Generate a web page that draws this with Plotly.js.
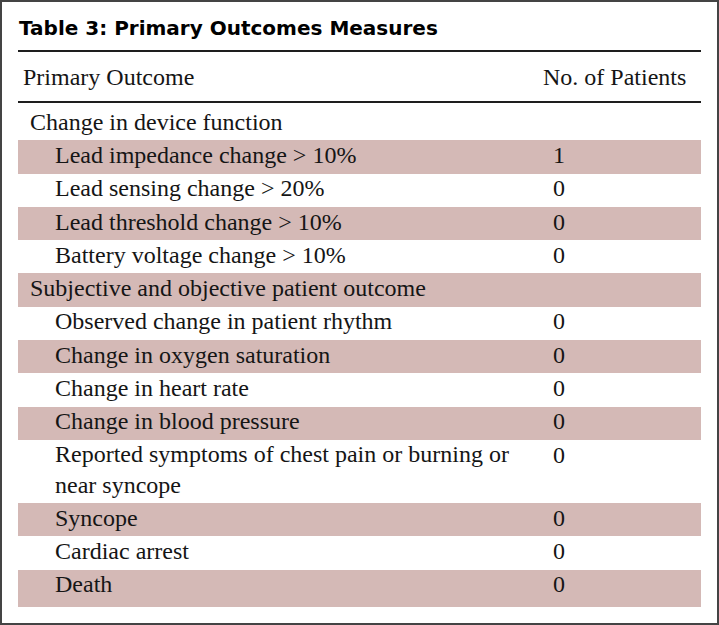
<!DOCTYPE html>
<html>
<head>
<meta charset="utf-8">
<script src="https://cdn.plot.ly/plotly-3.0.1.min.js"></script>
<style>html,body{margin:0;padding:0;background:#fff;}#chart{width:719px;height:625px;}</style>
</head>
<body>
<div id="chart"></div>
<script>
// ---- data ----
const tableTitle = "Table 3: Primary Outcomes Measures";
const columnHeaders = ["Primary Outcome", "No. of Patients"];
const outcomes = [
  "Change in device function",
  "Lead impedance change > 10%",
  "Lead sensing change > 20%",
  "Lead threshold change > 10%",
  "Battery voltage change > 10%",
  "Subjective and objective patient outcome",
  "Observed change in patient rhythm",
  "Change in oxygen saturation",
  "Change in heart rate",
  "Change in blood pressure",
  "Reported symptoms of chest pain or burning or<br>near syncope",
  "Syncope",
  "Cardiac arrest",
  "Death"
];
const patients = ["", "1", "0", "0", "0", "", "0", "0", "0", "0", "0", "0", "0", "0"];
const levels = [0, 1, 1, 1, 1, 0, 1, 1, 1, 1, 1, 1, 1, 1];

// ---- layout helpers (styling) ----
const W = 719, H = 625;
const SHADE = "#d4b9b6";
const TEXT = "#151515";
const SERIF = "'Liberation Serif', 'Times New Roman', Tinos, serif";
const tableLeft = 18, tableRight = 701;
const bodyTop = 107, bodyBottom = 607;
const tailPad = 0.12;  // extra padding under the last row
const px2x = p => (p - tableLeft) / (tableRight - tableLeft);
const py2paper = p => 1 - p / H;
const px2paper = p => p / W;

const lineCount = outcomes.map(t => t.split("<br>").length);
const rowH = lineCount.map(n => 1 + 0.9 * (n - 1));
const rowStart = [];
let acc = 0;
rowH.forEach(h => { rowStart.push(acc); acc += h; });
const total = acc + tailPad;
const rowEnd = rowStart.map((s, i) => s + rowH[i] + (i === outcomes.length - 1 ? tailPad : 0));
const rowCenter = rowStart.map((s, i) => s + rowH[i] / 2);
const firstLine = rowStart.map(s => s + 0.5);

const shadedIdx = outcomes.map((_, i) => i).filter(i => i % 2 === 1);

const traces = [
  {
    type: "bar", orientation: "h",
    y: shadedIdx.map(i => (rowStart[i] + rowEnd[i]) / 2),
    x: shadedIdx.map(() => 1),
    base: 0,
    width: shadedIdx.map(i => rowEnd[i] - rowStart[i]),
    marker: {color: SHADE, line: {width: 0}},
    hoverinfo: "skip"
  },
  {
    type: "scatter", mode: "text",
    x: levels.map(l => l === 0 ? px2x(30) : px2x(55)),
    y: rowCenter,
    text: outcomes,
    textposition: "middle right",
    textfont: {family: SERIF, size: 24, color: TEXT},
    hoverinfo: "skip"
  },
  {
    type: "scatter", mode: "text",
    x: patients.map(() => px2x(553)),
    y: firstLine,
    text: patients,
    textposition: "middle right",
    textfont: {family: SERIF, size: 24, color: TEXT},
    hoverinfo: "skip"
  }
];

const layout = {
  width: W, height: H,
  margin: {l: 0, r: 0, t: 0, b: 0},
  paper_bgcolor: "#fff", plot_bgcolor: "rgba(0,0,0,0)",
  showlegend: false,
  bargap: 0,
  font: {family: SERIF},
  xaxis: {domain: [tableLeft / W, tableRight / W], range: [0, 1], visible: false, fixedrange: true},
  yaxis: {domain: [py2paper(bodyBottom), py2paper(bodyTop)], range: [total, 0], visible: false, fixedrange: true},
  annotations: [
    {text: "<b>" + tableTitle + "</b>", xref: "paper", yref: "paper", x: px2paper(17), y: py2paper(28),
     xanchor: "left", yanchor: "middle", showarrow: false,
     font: {family: "DejaVu Sans", size: 20, color: "#000", weight: "bold"}},
    {text: columnHeaders[0], xref: "paper", yref: "paper", x: px2paper(21), y: py2paper(77),
     xanchor: "left", yanchor: "middle", showarrow: false,
     font: {family: SERIF, size: 24, color: TEXT}},
    {text: columnHeaders[1], xref: "paper", yref: "paper", x: px2paper(688), y: py2paper(77),
     xanchor: "right", yanchor: "middle", showarrow: false,
     font: {family: SERIF, size: 24, color: TEXT}}
  ],
  shapes: [
    {type: "line", xref: "x", yref: "paper", x0: 0, x1: 1, y0: py2paper(51), y1: py2paper(51),
     line: {color: "#1e1e1e", width: 2}},
    {type: "line", xref: "x", yref: "paper", x0: 0, x1: 1, y0: py2paper(102), y1: py2paper(102),
     line: {color: "#1e1e1e", width: 2}},
    {type: "rect", xref: "paper", yref: "paper", x0: 0, x1: 1, y0: 0, y1: 1,
     line: {color: "#444444", width: 4}}
  ]
};

Plotly.newPlot("chart", traces, layout, {displayModeBar: false, staticPlot: true});
</script>
</body>
</html>
